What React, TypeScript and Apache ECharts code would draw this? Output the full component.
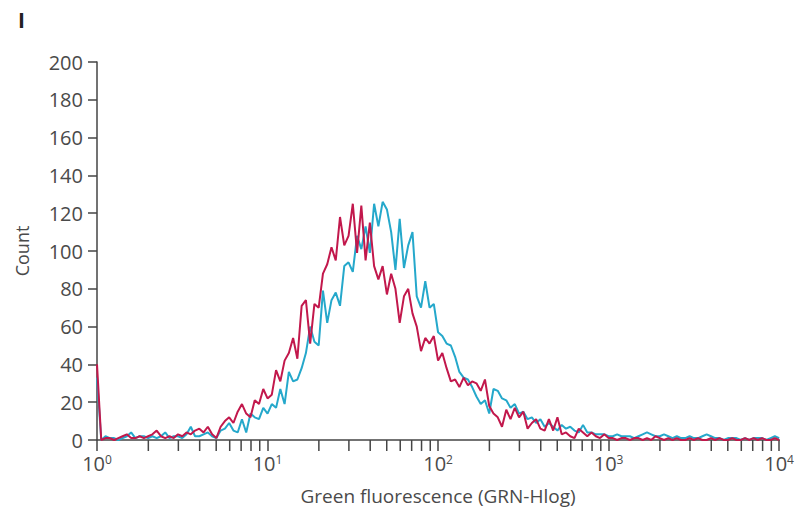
import React, { useEffect, useRef } from "react";
import * as echarts from "echarts";

// Histogram channels: 40 channels per decade, from 10^0 to 10^4
const channelsPerDecade = 40;

const redCounts = [
  40, 0, 1, 1, 0, 1, 2, 3, 1, 1,
  2, 1, 2, 3, 5, 2, 1, 2, 1, 3,
  2, 4, 3, 5, 6, 4, 7, 3, 1, 7,
  10, 12, 9, 15, 19, 14, 12, 21, 19, 27,
  22, 24, 37, 31, 42, 46, 54, 43, 71, 74,
  51, 72, 70, 88, 93, 102, 95, 118, 103, 108,
  125, 99, 124, 95, 115, 92, 85, 92, 77, 88,
  80, 62, 76, 80, 67, 60, 47, 54, 51, 55,
  42, 46, 38, 31, 32, 28, 33, 29, 31, 30,
  26, 32, 18, 14, 12, 7, 16, 11, 17, 12,
  15, 6, 9, 11, 6, 5, 11, 5, 12, 3,
  4, 2, 1, 6, 4, 2, 4, 2, 1, 3,
  1, 1, 0, 1, 1, 0, 1, 1, 0, 1,
  0, 2, 1, 0, 1, 0, 1, 0, 0, 1,
  0, 1, 0, 0, 1, 0, 1, 0, 0, 1,
  0, 0, 1, 0, 1, 0, 1, 0, 0, 1,
  0,
];

const cyanCounts = [
  33, 0, 2, 1, 1, 0, 1, 2, 4, 1,
  2, 2, 1, 2, 1, 2, 4, 1, 2, 2,
  1, 3, 7, 2, 2, 3, 4, 2, 1, 5,
  6, 9, 5, 4, 11, 4, 14, 12, 11, 17,
  14, 19, 17, 27, 19, 36, 31, 32, 38, 46,
  60, 52, 50, 79, 62, 74, 78, 71, 92, 94,
  89, 108, 101, 113, 99, 125, 113, 126, 122, 110,
  90, 117, 91, 103, 110, 76, 70, 84, 70, 72,
  57, 55, 51, 50, 44, 36, 33, 32, 28, 23,
  19, 21, 14, 27, 26, 22, 21, 17, 19, 14,
  15, 11, 12, 9, 11, 7, 9, 7, 5, 8,
  6, 7, 5, 4, 8, 4, 4, 3, 3, 3,
  2, 2, 3, 2, 2, 2, 1, 2, 3, 4,
  3, 2, 2, 3, 2, 1, 2, 1, 1, 2,
  1, 1, 2, 3, 2, 1, 1, 0, 1, 1,
  1, 0, 1, 0, 1, 1, 1, 0, 1, 2,
  1,
];

const minorTickValues = [
  2, 3, 4, 5, 6, 7, 8, 9,
  20, 30, 40, 50, 60, 70, 80, 90,
  200, 300, 400, 500, 600, 700, 800, 900,
  2000, 3000, 4000, 5000, 6000, 7000, 8000, 9000,
];

const yTicks = { min: 0, max: 200, interval: 20 };
const xTitle = "Green fluorescence (GRN-Hlog)";
const yTitle = "Count";
const panelLabel = "I";

const RED = "#c2184c";
const CYAN = "#25a8cb";
const AXIS = "#454545";
const TEXT = "#4a4a4a";
const FONT = "'Open Sans', 'Noto Sans', sans-serif";

function toPairs(counts: number[]) {
  return counts.map((c, i) => [Math.pow(10, i / channelsPerDecade), c]);
}

export default function App() {
  const ref = useRef<HTMLDivElement>(null);

  useEffect(() => {
    document.body.style.margin = "0";
    if (!ref.current) return;
    const chart = echarts.init(ref.current, null, { renderer: "svg" });
    chart.setOption({
      animation: false,
      backgroundColor: "#ffffff",
      textStyle: { fontFamily: FONT },
      grid: { left: 97, right: 15, top: 62, bottom: 70 },
      graphic: [
        {
          type: "text",
          left: 18,
          top: 9,
          style: {
            text: panelLabel,
            fontSize: 21,
            fontWeight: "bold",
            fill: "#222",
            fontFamily: FONT,
          },
        },
      ],
      xAxis: {
        type: "log",
        logBase: 10,
        min: 1,
        max: 10000,
        name: xTitle,
        nameLocation: "middle",
        nameGap: 46,
        nameTextStyle: { fontSize: 19, color: TEXT, fontFamily: FONT },
        axisLine: { show: true, lineStyle: { color: AXIS, width: 1.5 } },
        axisTick: { show: true, length: 11, lineStyle: { color: AXIS, width: 1.5 } },
        splitLine: { show: false },
        minorTick: { show: false },
        axisLabel: {
          margin: 13,
          color: TEXT,
          formatter: (v: number) => {
            const e = Math.round(Math.log10(v));
            return "{b|10}{s|" + e + "}";
          },
          rich: {
            b: { fontSize: 20, lineHeight: 20, color: TEXT, fontFamily: FONT },
            s: { fontSize: 12, lineHeight: 12, verticalAlign: "top", color: TEXT, fontFamily: FONT },
          },
        },
      },
      yAxis: {
        type: "value",
        min: yTicks.min,
        max: yTicks.max,
        interval: yTicks.interval,
        name: yTitle,
        nameLocation: "middle",
        nameGap: 66,
        nameTextStyle: { fontSize: 18, color: TEXT, fontFamily: FONT },
        axisLine: { show: true, lineStyle: { color: AXIS, width: 1.5 } },
        axisTick: { show: true, length: 9, lineStyle: { color: AXIS, width: 1.5 } },
        splitLine: { show: false },
        axisLabel: { margin: 14, fontSize: 20, color: TEXT, fontFamily: FONT },
      },
      series: [
        {
          type: "custom",
          silent: true,
          clip: false,
          data: minorTickValues.map((v) => [v, 0]),
          encode: { x: 0, y: 1 },
          renderItem: (_params: any, api: any) => {
            const p = api.coord([api.value(0), 0]);
            return {
              type: "line",
              shape: { x1: p[0], y1: p[1], x2: p[0], y2: p[1] + 11 },
              style: { stroke: AXIS, lineWidth: 1.5 },
            };
          },
          z: 1,
        },
        {
          name: "cyan",
          type: "line",
          data: toPairs(cyanCounts),
          showSymbol: false,
          symbol: "none",
          lineStyle: { color: CYAN, width: 2 },
          itemStyle: { color: CYAN },
          z: 2,
        },
        {
          name: "red",
          type: "line",
          data: toPairs(redCounts),
          showSymbol: false,
          symbol: "none",
          lineStyle: { color: RED, width: 2 },
          itemStyle: { color: RED },
          z: 3,
        },
      ],
    });
    return () => chart.dispose();
  }, []);

  return <div ref={ref} style={{ width: 797, height: 510 }} />;
}
